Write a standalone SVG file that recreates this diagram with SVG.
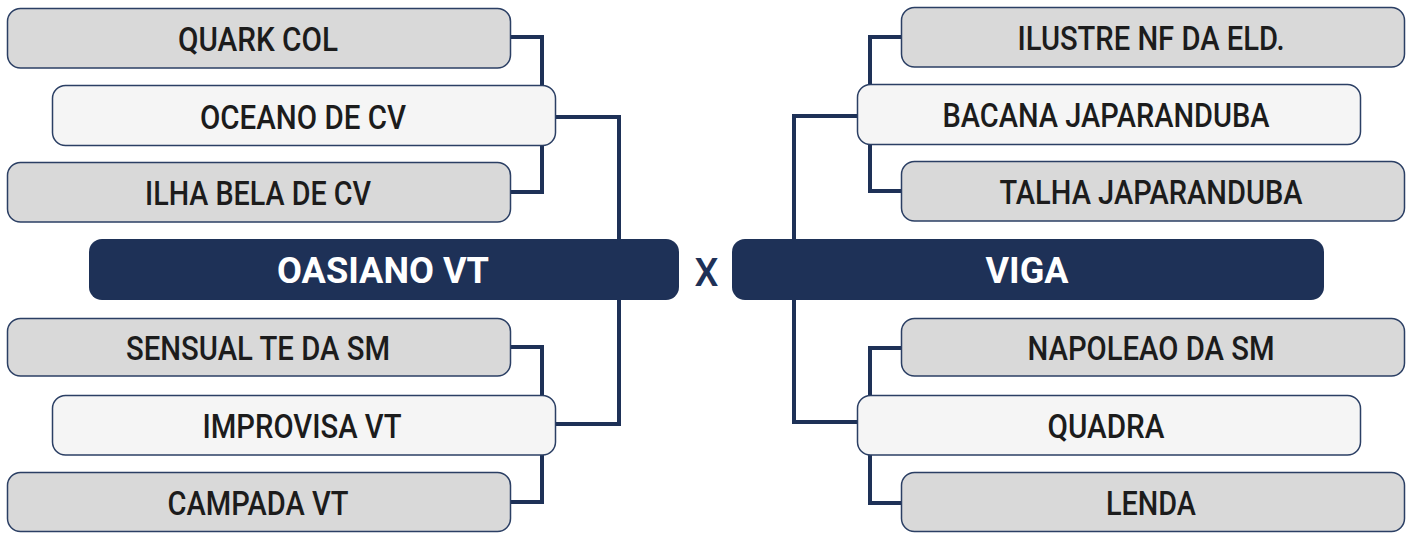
<svg xmlns="http://www.w3.org/2000/svg" width="1412" height="533" viewBox="0 0 1412 533">
<style>
.team rect{fill:#d9d9d9;stroke:#2b3f64;stroke-width:1.5}
.win rect{fill:#f5f5f5;stroke:#2b3f64;stroke-width:1.5}
.final rect{fill:#1e3157}
text{font-family:Roboto,"Liberation Sans",sans-serif;text-anchor:middle}
.team text,.win text{font-size:33px;font-weight:500;fill:#1c1c1c}
.final text{font-size:37px;font-weight:700;fill:#ffffff}
.conn path{fill:none;stroke:#1e3157;stroke-width:4;stroke-linejoin:miter}
.vs{font-size:38px;font-weight:500;fill:#1e3157}
</style>
<rect width="1412" height="533" fill="#ffffff"/>
<g class="conn" id="connectors">
<path d="M511 37 H542 V192 H511"/>
<path d="M556 117 H619 V239"/>
<path d="M511 347 H542 V502 H511"/>
<path d="M556 424 H619 V300"/>
<path d="M901 37 H870 V191 H901"/>
<path d="M857 116 H794 V239"/>
<path d="M901 348 H870 V503 H901"/>
<path d="M857 422 H794 V300"/>
</g>
<g class="team" id="quark-col"><rect x="7.5" y="8.5" width="503" height="59.5" rx="13"/><text x="258" y="51" textLength="160" lengthAdjust="spacingAndGlyphs">QUARK COL</text></g>
<g class="win" id="oceano-de-cv"><rect x="52.5" y="85.5" width="503" height="60" rx="13"/><text x="303" y="129" textLength="206" lengthAdjust="spacingAndGlyphs">OCEANO DE CV</text></g>
<g class="team" id="ilha-bela-de-cv"><rect x="7.5" y="162.5" width="503" height="59.5" rx="13"/><text x="258" y="205" textLength="226" lengthAdjust="spacingAndGlyphs">ILHA BELA DE CV</text></g>
<g class="final" id="oasiano-vt"><rect x="89" y="239" width="590" height="61" rx="13"/><text x="383" y="283" textLength="212" lengthAdjust="spacingAndGlyphs">OASIANO VT</text></g>
<text class="vs" x="706.5" y="286" textLength="24" lengthAdjust="spacingAndGlyphs">X</text>
<g class="final" id="viga"><rect x="732" y="239" width="592" height="61" rx="13"/><text x="1027" y="283" textLength="83" lengthAdjust="spacingAndGlyphs">VIGA</text></g>
<g class="team" id="sensual-te-da-sm"><rect x="7.5" y="318.5" width="503" height="57.5" rx="13"/><text x="258" y="360" textLength="264" lengthAdjust="spacingAndGlyphs">SENSUAL TE DA SM</text></g>
<g class="win" id="improvisa-vt"><rect x="52.5" y="395.5" width="503" height="59.5" rx="13"/><text x="302" y="438" textLength="199" lengthAdjust="spacingAndGlyphs">IMPROVISA VT</text></g>
<g class="team" id="campada-vt"><rect x="7.5" y="472.5" width="503" height="59" rx="13"/><text x="258" y="515" textLength="181" lengthAdjust="spacingAndGlyphs">CAMPADA VT</text></g>
<g class="team" id="ilustre-nf-da-eld"><rect x="901.5" y="7.5" width="503" height="59.5" rx="13"/><text x="1151" y="50" textLength="267" lengthAdjust="spacingAndGlyphs">ILUSTRE NF DA ELD.</text></g>
<g class="win" id="bacana-japaranduba"><rect x="857.5" y="84.5" width="503" height="60" rx="13"/><text x="1106" y="127" textLength="327" lengthAdjust="spacingAndGlyphs">BACANA JAPARANDUBA</text></g>
<g class="team" id="talha-japaranduba"><rect x="901.5" y="161.5" width="503" height="59.5" rx="13"/><text x="1151" y="204" textLength="303" lengthAdjust="spacingAndGlyphs">TALHA JAPARANDUBA</text></g>
<g class="team" id="napoleao-da-sm"><rect x="901.5" y="318.5" width="503" height="57.5" rx="13"/><text x="1151" y="360" textLength="247" lengthAdjust="spacingAndGlyphs">NAPOLEAO DA SM</text></g>
<g class="win" id="quadra"><rect x="857.5" y="395.5" width="503" height="59.5" rx="13"/><text x="1106" y="438" textLength="117" lengthAdjust="spacingAndGlyphs">QUADRA</text></g>
<g class="team" id="lenda"><rect x="901.5" y="472.5" width="503" height="59" rx="13"/><text x="1151" y="515" textLength="90" lengthAdjust="spacingAndGlyphs">LENDA</text></g>
</svg>
